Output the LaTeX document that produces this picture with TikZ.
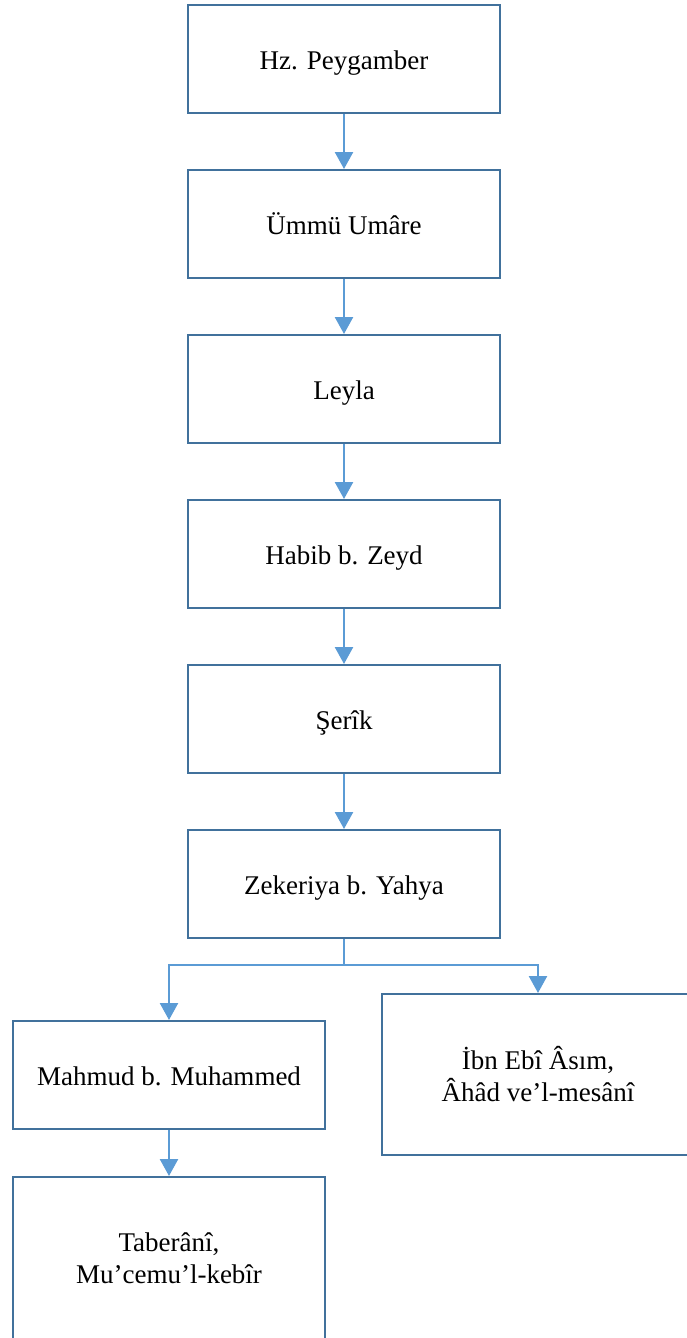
\documentclass[tikz,border=0pt]{standalone}
\usepackage{fontspec}
\setmainfont{Liberation Serif}
\usetikzlibrary{positioning, arrows.meta}

\definecolor{boxline}{HTML}{41719C}
\definecolor{linkline}{HTML}{5B9BD5}

\begin{document}
\begin{tikzpicture}[
  x=0.5pt, y=-0.5pt,
  node distance=27.5pt,
  box/.style={rectangle, draw=boxline, line width=1pt, fill=white, minimum width=156pt, align=center, font=\fontsize{13.5}{16}\selectfont},
  narrator/.style={box, minimum height=54pt, text height=10.5pt, text depth=0pt},
  source/.style={box, minimum height=81pt},
  arrow/.style={-{Triangle[width=9pt, length=8.5pt]}, draw=linkline, line width=1.25pt}
]

\useasboundingbox (0,0) rectangle (686,1338);

\node[narrator] (peygamber) at (344,59) {Hz. Peygamber};
\node[narrator, below=of peygamber] (ummu) {Ümmü Umâre};
\node[narrator, below=of ummu] (leyla) {Leyla};
\node[narrator, below=of leyla] (habib) {Habib b. Zeyd};
\node[narrator, below=of habib] (serik) {Şerîk};
\node[narrator, below=of serik] (zekeriya) {Zekeriya b. Yahya};

\node[narrator, below=40.5pt of zekeriya, xshift=-87.5pt] (mahmud) {Mahmud b. Muhammed};
\node[source, below=27pt of zekeriya, xshift=97pt, minimum height=80.5pt] (ibnebi) {İbn Ebî Âsım,\\Âhâd ve’l-mesânî};
\node[source, below=23pt of mahmud] (taberani) {Taberânî,\\Mu’cemu’l-kebîr};

\draw[arrow] (peygamber) -- (ummu);
\draw[arrow] (ummu) -- (leyla);
\draw[arrow] (leyla) -- (habib);
\draw[arrow] (habib) -- (serik);
\draw[arrow] (serik) -- (zekeriya);

\coordinate[below=13pt of zekeriya.south] (fork);
\draw[linkline, line width=1.25pt] (zekeriya.south) -- (fork);
\draw[arrow] (fork) -| (mahmud.north);
\draw[arrow] (fork) -| (ibnebi.north);

\draw[arrow] (mahmud) -- (taberani);

\end{tikzpicture}
\end{document}
